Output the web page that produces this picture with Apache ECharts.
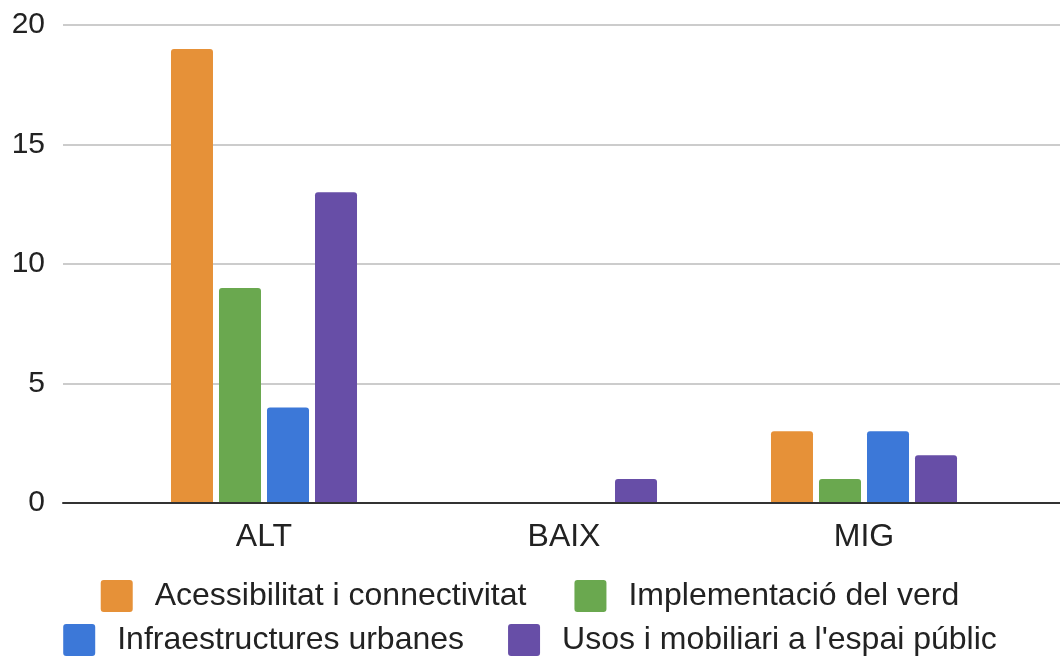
<!DOCTYPE html>
<html>
<head>
<meta charset="utf-8">
<script src="https://cdn.jsdelivr.net/npm/echarts@6/dist/echarts.min.js"></script>
<style>
html,body{margin:0;padding:0;background:#fff;}
#c{width:1060px;height:657px;}
</style>
</head>
<body>
<div id="c"></div>
<script>
const categories = ['ALT', 'BAIX', 'MIG'];
const seriesNames = ['Acessibilitat i connectivitat', 'Implementació del verd', 'Infraestructures urbanes', "Usos i mobiliari a l'espai públic"];
const acessibilitat = [19, 0, 3];
const verd = [9, 0, 1];
const infraestructures = [4, 0, 3];
const usos = [13, 1, 2];
const colors = ['#E69138', '#6AA84F', '#3C78D8', '#674EA7'];
const yTicks = [0, 5, 10, 15, 20];

const values = [acessibilitat, verd, infraestructures, usos];
const font = 'Arial, "Liberation Sans", sans-serif';
const iconPath = 'path://M3,0 H29 Q32,0 32,3 V29 Q32,32 29,32 H3 Q0,32 0,29 V3 Q0,0 3,0 Z';

const chart = echarts.init(document.getElementById('c'));
chart.setOption({
  animation: false,
  backgroundColor: '#fff',
  grid: [
    {left: 63, right: 0, top: 25, bottom: 154},
    {left: 114, width: 900, top: 25, bottom: 154}
  ],
  xAxis: [
    {gridIndex: 0, type: 'category', data: categories, axisLabel: {show: false}, axisTick: {show: false},
     axisLine: {show: true, lineStyle: {color: '#333', width: 2}}, z: 10},
    {gridIndex: 1, type: 'category', data: categories, axisTick: {show: false}, axisLine: {show: false},
     axisLabel: {fontSize: 32, color: '#222', fontFamily: font, margin: 18}}
  ],
  yAxis: [
    {gridIndex: 0, type: 'value', min: yTicks[0], max: yTicks[yTicks.length - 1], interval: 5,
     axisLine: {show: false}, axisTick: {show: false},
     axisLabel: {fontSize: 30, color: '#222', fontFamily: font, margin: 18},
     splitLine: {lineStyle: {color: '#cccccc', width: 2}}},
    {gridIndex: 1, type: 'value', min: yTicks[0], max: yTicks[yTicks.length - 1], interval: 5, show: false,
     splitLine: {show: false}}
  ],
  legend: [
    {data: seriesNames.slice(0, 2), left: 'center', top: 575, itemWidth: 32, itemHeight: 32, itemGap: 48,
     icon: iconPath, textStyle: {fontSize: 32, color: '#222', fontFamily: font, padding: [0, 0, 0, 17]}},
    {data: seriesNames.slice(2, 4), left: 'center', top: 619, itemWidth: 32, itemHeight: 32, itemGap: 44,
     icon: iconPath, textStyle: {fontSize: 32, color: '#222', fontFamily: font, padding: [0, 0, 0, 17]}}
  ],
  series: seriesNames.map((name, i) => ({
    name: name,
    type: 'bar',
    xAxisIndex: 1,
    yAxisIndex: 1,
    data: values[i],
    barWidth: 42,
    barGap: '14.3%',
    itemStyle: {color: colors[i], borderRadius: [3, 3, 0, 0]}
  }))
});
</script>
</body>
</html>
